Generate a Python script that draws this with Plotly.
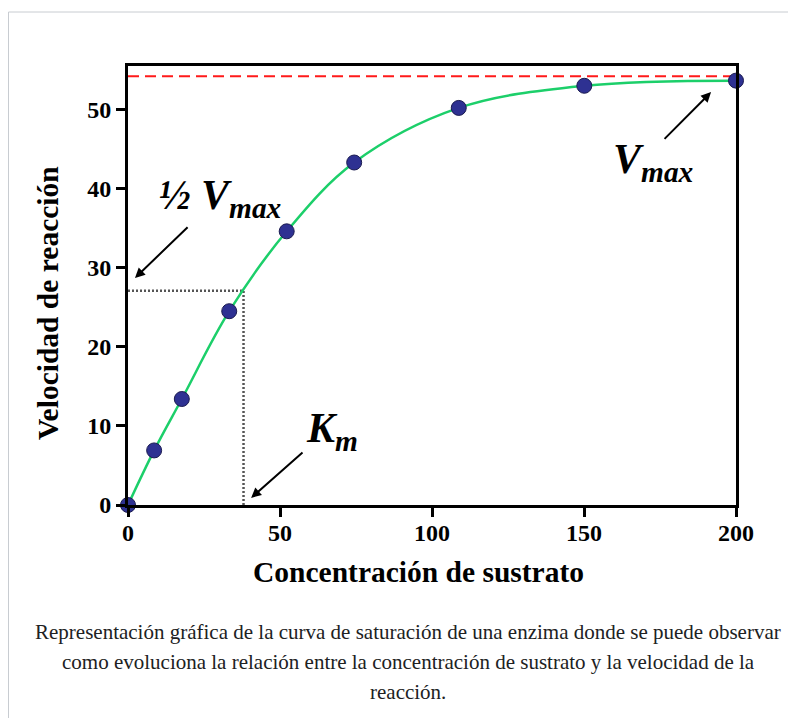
import plotly.graph_objects as go

# Data
substrate = [0, 8.6, 17.7, 33.3, 52.2, 74.4, 108.8, 150.1, 200]
velocity = [0, 6.9, 13.4, 24.5, 34.6, 43.3, 50.2, 53.0, 53.65]
vmax = 54.2
half_vmax = 27.1
km = 38.0
x_ticks = [0, 50, 100, 150, 200]
y_ticks = [0, 10, 20, 30, 40, 50]

x_title = "Concentración de sustrato"
y_title = "Velocidad de reacción"
caption_lines = [
    "Representación gráfica de la curva de saturación de una enzima donde se puede observar",
    "como evoluciona la relación entre la concentración de sustrato y la velocidad de la",
    "reacción.",
]

SERIF = "Liberation Serif"
OFF = 8  # page body margin
W, H = 796 - OFF, 718 - OFF
# plot area in reference (window) pixels: x 128..736, y 66..505
ML = 128 - OFF
MT = 66 - OFF
MR = W - (736 - OFF)
MB = H - (505 - OFF)
PW, PH = W - ML - MR, H - MT - MB


def px_to_paper_x(px):
    return (px - OFF - ML) / PW


def px_to_paper_y(py):
    return (H - MB - (py - OFF)) / PH


fig = go.Figure()

# Vmax dashed line
fig.add_trace(go.Scatter(
    x=[x_ticks[0], x_ticks[-1]], y=[vmax, vmax], mode="lines",
    line=dict(color="#ff1a1a", width=2, dash="11px,6px"),
    hoverinfo="skip", showlegend=False, cliponaxis=False,
))

# Km / half-Vmax dotted guides
fig.add_trace(go.Scatter(
    x=[0, km, km], y=[half_vmax, half_vmax, 0], mode="lines",
    line=dict(color="#555555", width=2.5, dash="2px,2px"),
    hoverinfo="skip", showlegend=False,
))

# Saturation curve
fig.add_trace(go.Scatter(
    x=substrate, y=velocity, mode="lines",
    line=dict(color="#1ccf6a", width=2.5, shape="spline", smoothing=1.0),
    hoverinfo="skip", showlegend=False, cliponaxis=False,
))

# Data points
fig.add_trace(go.Scatter(
    x=substrate, y=velocity, mode="markers",
    marker=dict(size=15, color="#2e3192", line=dict(color="#1b1b50", width=1)),
    showlegend=False, cliponaxis=False,
))

axis_common = dict(
    showline=True, linewidth=3, linecolor="black", mirror=True,
    ticks="outside", ticklen=9, tickwidth=3, tickcolor="black",
    showgrid=False, zeroline=False,
    tickfont=dict(family=SERIF, size=24, color="black", weight="bold"),
)

fig.update_layout(
    width=W, height=H,
    margin=dict(l=ML, r=MR, t=MT, b=MB),
    paper_bgcolor="white", plot_bgcolor="white",
    xaxis=dict(range=[0, 200], tickvals=x_ticks, ticklabelstandoff=-5, **axis_common),
    yaxis=dict(range=[0, 55.5], tickvals=y_ticks, **axis_common),
    showlegend=False,
)

label_font = dict(family=SERIF, size=42, color="black", weight="bold", style="italic")

annotations = [
    # arrows (data coordinates)
    dict(x=2.3, y=28.7, ax=20.1, ay=35.3, xref="x", yref="y", axref="x", ayref="y",
         showarrow=True, arrowhead=2, arrowsize=1, arrowwidth=2, arrowcolor="black", text=""),
    dict(x=191.8, y=52.2, ax=176.0, ay=46.1, xref="x", yref="y", axref="x", ayref="y",
         showarrow=True, arrowhead=2, arrowsize=1, arrowwidth=2, arrowcolor="black", text=""),
    dict(x=40.5, y=0.9, ax=57.9, ay=6.8, xref="x", yref="y", axref="x", ayref="y",
         showarrow=True, arrowhead=2, arrowsize=1, arrowwidth=2, arrowcolor="black", text=""),
    # labels
    dict(x=9.5, y=38.8, xref="x", yref="y", xanchor="left", yanchor="middle",
         text="<b>½</b> V<sub>max</sub>", showarrow=False, font=label_font),
    dict(x=158.8, y=43.4, xref="x", yref="y", xanchor="left", yanchor="middle",
         text="V<sub>max</sub>", showarrow=False, font=label_font),
    dict(x=57.9, y=9.4, xref="x", yref="y", xanchor="left", yanchor="middle",
         text="K<sub>m</sub>", showarrow=False, font=label_font),
    # axis titles
    dict(x=px_to_paper_x(418), y=px_to_paper_y(572), xref="paper", yref="paper",
         xanchor="center", yanchor="middle", text=x_title, showarrow=False,
         font=dict(family=SERIF, size=29.5, color="black", weight="bold")),
    dict(x=px_to_paper_x(48), y=px_to_paper_y(303), xref="paper", yref="paper",
         xanchor="center", yanchor="middle", text=y_title, showarrow=False, textangle=-90,
         font=dict(family=SERIF, size=29.5, color="black", weight="bold")),
]

caption_y = [632, 662, 692]
for line, py in zip(caption_lines, caption_y):
    annotations.append(dict(
        x=px_to_paper_x(408), y=px_to_paper_y(py), xref="paper", yref="paper",
        xanchor="center", yanchor="middle", text=line, showarrow=False,
        font=dict(family=SERIF, size=21, color="#202122"),
    ))

fig.update_layout(annotations=annotations)

# Outer thumbnail border (left/top edges visible)
fig.add_shape(type="rect", xref="paper", yref="paper",
              x0=px_to_paper_x(OFF + 0.5), x1=px_to_paper_x(805),
              y0=px_to_paper_y(730), y1=px_to_paper_y(12),
              line=dict(color="#c8ccd1", width=1), fillcolor="rgba(0,0,0,0)", layer="below")

fig.write_html("out.html")
